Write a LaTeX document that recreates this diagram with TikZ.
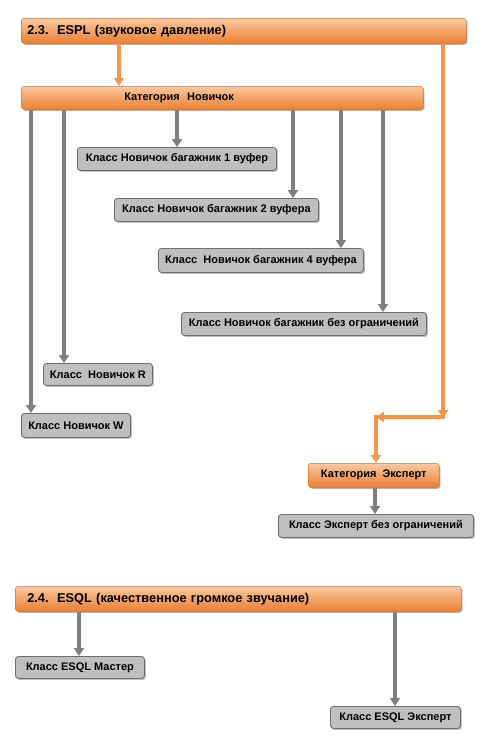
\documentclass[tikz,border=0pt]{standalone}
\usepackage{fontspec}
\setmainfont{Liberation Sans}
\usetikzlibrary{arrows.meta,shadows}
\definecolor{boxgray}{HTML}{BFBFBF}
\definecolor{boxedge}{HTML}{6E6E6E}
\definecolor{arrgray}{HTML}{7F7F7F}
\definecolor{orng}{HTML}{F79646}
\definecolor{orngtop}{HTML}{FBC9A0}
\definecolor{orngbot}{HTML}{EC7F30}
\definecolor{orngedge}{HTML}{D9732E}
\tikzset{
  graybox/.style={draw=boxedge, line width=0.9pt, fill=boxgray, rounded corners=3pt,
    anchor=north west, inner sep=0pt, font=\fontsize{11}{13}\bfseries,
    drop shadow={shadow xshift=1.5pt, shadow yshift=-1.5pt, fill=black, opacity=0.25}},
  orangebox/.style={draw=orngedge, line width=0.5pt, top color=orngtop, middle color=orng, bottom color=orngbot,
    rounded corners=3pt, anchor=north west, inner sep=0pt,
    drop shadow={shadow xshift=1.2pt, shadow yshift=-1.5pt, fill=black, opacity=0.3}},
  headfont/.style={font=\fontsize{12.8}{15}\bfseries},
  garrow/.style={draw=arrgray, line width=3.2pt, -{Triangle[width=10pt,length=8pt]}},
  oarrow/.style={draw=orng, line width=3.2pt, -{Triangle[width=10pt,length=8pt]}},
}
\begin{document}
\begin{tikzpicture}[x=1pt,y=-1pt]
\useasboundingbox (0,0) rectangle (487,744);
% headers and categories
\node[orangebox, headfont, minimum height=25pt, text width=433pt, inner xsep=6pt, align=left] (h23) at (21,18) {2.3.\ \ ESPL (звуковое давление)};
\node[orangebox, minimum height=23pt, text width=390pt, inner xsep=6pt, align=left, font=\fontsize{11}{13}\bfseries] (nov) at (21,86) {\hspace*{97pt}Категория\ \ Новичок};
\node[orangebox, minimum width=131pt, minimum height=24pt, font=\fontsize{11}{13}\bfseries] (kexp) at (308,463) {Категория\ \ Эксперт};
\node[orangebox, headfont, minimum height=25pt, text width=434pt, inner xsep=6pt, align=left] (h24) at (15,586) {\hspace*{6pt}2.4.\ \ ESQL (качественное громкое звучание)};
% gray boxes
\node[graybox, minimum width=199pt, minimum height=23pt] (b1) at (77,147) {Класс Новичок багажник 1 вуфер};
\node[graybox, minimum width=204pt, minimum height=23pt] (b2) at (114,198) {Класс Новичок багажник 2 вуфера};
\node[graybox, minimum width=205pt, minimum height=24pt] (b4) at (158,248) {Класс\ \ Новичок багажник 4 вуфера};
\node[graybox, minimum width=245pt, minimum height=23pt] (bb) at (181,312) {Класс Новичок багажник без ограничений};
\node[graybox, minimum width=109pt, minimum height=22pt] (br) at (43,363) {Класс\ \ Новичок R};
\node[graybox, minimum width=109pt, minimum height=24pt] (bw) at (21,413) {Класс Новичок W};
\node[graybox, minimum width=195pt, minimum height=23pt] (be) at (278,514) {Класс Эксперт без ограничений};
\node[graybox, minimum width=129pt, minimum height=22pt] (bm) at (15,656) {Класс ESQL Мастер};
\node[graybox, minimum width=130pt, minimum height=22pt] (bx) at (330,706) {Класс ESQL Эксперт};
% orange connectors
\coordinate (t1) at (443,417);
\coordinate (t2) at (376,417);
\draw[oarrow] (h23.south -| 119,0) -- (nov.north -| 119,0);
\draw[oarrow, shorten >=-1pt] (h23.south -| t1) -- (t1);
\draw[oarrow, shorten <=-1.6pt] (t1) -- (t2);
\draw[oarrow, shorten <=-1.6pt] (t2) -- (kexp.north -| t2);
% gray connectors
\draw[garrow] (nov.south -| 177,0) -- (b1.north -| 177,0);
\draw[garrow] (nov.south -| 293,0) -- (b2.north -| 293,0);
\draw[garrow] (nov.south -| 341,0) -- (b4.north -| 341,0);
\draw[garrow] (nov.south -| 383,0) -- (bb.north -| 383,0);
\draw[garrow] (nov.south -| 64,0) -- (br.north -| 64,0);
\draw[garrow] (nov.south -| 31,0) -- (bw.north -| 31,0);
\draw[garrow] (kexp.south -| 375,0) -- (be.north -| 375,0);
\draw[garrow] (h24.south -| 79,0) -- (bm.north -| 79,0);
\draw[garrow] (h24.south -| 395,0) -- (bx.north -| 395,0);
\end{tikzpicture}
\end{document}
